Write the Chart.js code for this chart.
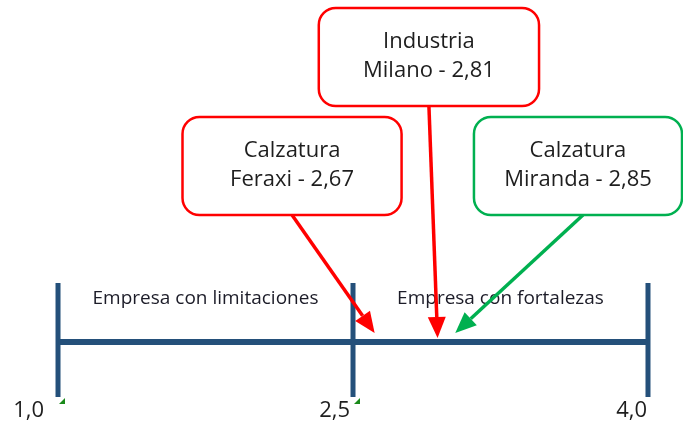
<!DOCTYPE html>
<html>
<head>
<meta charset="utf-8">
<script src="https://cdn.jsdelivr.net/npm/chart.js@4"></script>
<style>
  body { margin: 0; background: #fff; }
  #wrap { width: 683px; height: 425px; }
</style>
</head>
<body>
<div id="wrap"><canvas id="scaleChart" width="683" height="425"></canvas></div>
<script>
// scale 1,0 - 4,0 with the cut at 2,5
const axisTicks = [1.0, 2.5, 4.0];
const tickLabels = ['1,0', '2,5', '4,0'];
const zones = ['Empresa con limitaciones', 'Empresa con fortalezas'];

// companies
const sectors = ['Calzatura', 'Industria', 'Calzatura'];
const companyNames = ['Feraxi', 'Milano', 'Miranda'];
const scores = [2.67, 2.81, 2.85];
// where each arrow lands on the drawn scale (not to scale in the original)
const arrowTips = [2.61, 2.93, 3.02];
const boxColors = ['#ff0000', '#ff0000', '#00b050'];

const axisColor = '#24507a';
const FONT = '"Open Sans", sans-serif';

// box layout in axis units (x) and diagram levels (y)
const boxCenters = [2.19, 2.886, 3.644];
const boxLevels = [1.76, 2.85, 1.76];
const boxHalfW = [0.557, 0.56, 0.529];
const boxHalfH = 0.49;

function fmt(v) {
    return v.toFixed(2).replace('.', ',');
}

const datasets = [];
datasets.push({
    data: [{x: axisTicks[0], y: 0}, {x: axisTicks[axisTicks.length - 1], y: 0}],
    borderColor: axisColor, borderWidth: 6, showLine: true, pointRadius: 0
});
axisTicks.forEach(t => {
    datasets.push({
        data: [{x: t, y: 0.59}, {x: t, y: -0.55}],
        borderColor: axisColor, borderWidth: 5, showLine: true, pointRadius: 0
    });
});

const diagramPlugin = {
    id: 'diagram',
    afterDatasetsDraw(chart) {
        const ctx = chart.ctx;
        const xs = chart.scales.x, ys = chart.scales.y;
        ctx.save();

        // small green markers under the first two ticks
        ctx.fillStyle = '#1a8a1a';
        [axisTicks[0], axisTicks[1]].forEach(t => {
            const px = xs.getPixelForValue(t) + 1, py = ys.getPixelForValue(-0.55) + 1;
            ctx.beginPath();
            ctx.moveTo(px, py + 6);
            ctx.lineTo(px + 6, py);
            ctx.lineTo(px + 6, py + 6);
            ctx.closePath();
            ctx.fill();
        });

        // tick labels
        ctx.fillStyle = '#1e1e1e';
        ctx.font = '22px ' + FONT;
        ctx.textAlign = 'right';
        ctx.textBaseline = 'middle';
        axisTicks.forEach((t, i) => {
            const off = i === 0 ? 14 : (i === 1 ? 3 : 1);
            ctx.fillText(tickLabels[i], xs.getPixelForValue(t) - off, ys.getPixelForValue(-0.69));
        });

        // zone labels
        ctx.textAlign = 'center';
        ctx.font = '19px ' + FONT;
        ctx.fillStyle = '#1c1c28';
        ctx.fillText(zones[0], xs.getPixelForValue((axisTicks[0] + axisTicks[1]) / 2), ys.getPixelForValue(0.43));
        ctx.fillText(zones[1], xs.getPixelForValue((axisTicks[1] + axisTicks[2]) / 2), ys.getPixelForValue(0.43));

        // arrows
        scores.forEach((s, i) => {
            const x0 = xs.getPixelForValue(boxCenters[i]) + (i === 2 ? 5 : 0);
            const y0 = ys.getPixelForValue(boxLevels[i] - boxHalfH);
            const x1 = xs.getPixelForValue(arrowTips[i]);
            const y1 = ys.getPixelForValue(i === 1 ? 0.04 : 0.09);
            const ang = Math.atan2(y1 - y0, x1 - x0);
            const headL = 21, headW = 9;
            const bx = x1 - headL * Math.cos(ang), by = y1 - headL * Math.sin(ang);
            ctx.strokeStyle = boxColors[i];
            ctx.fillStyle = boxColors[i];
            ctx.lineWidth = 3.5;
            ctx.beginPath();
            ctx.moveTo(x0, y0);
            ctx.lineTo(bx, by);
            ctx.stroke();
            ctx.beginPath();
            ctx.moveTo(x1, y1);
            ctx.lineTo(bx + headW * Math.sin(ang), by - headW * Math.cos(ang));
            ctx.lineTo(bx - headW * Math.sin(ang), by + headW * Math.cos(ang));
            ctx.closePath();
            ctx.fill();
        });

        // boxes
        scores.forEach((s, i) => {
            const l = xs.getPixelForValue(boxCenters[i] - boxHalfW[i]);
            const r = xs.getPixelForValue(boxCenters[i] + boxHalfW[i]);
            const t = ys.getPixelForValue(boxLevels[i] + boxHalfH);
            const b = ys.getPixelForValue(boxLevels[i] - boxHalfH);
            ctx.beginPath();
            ctx.roundRect(l, t, r - l, b - t, 17);
            ctx.fillStyle = '#fff';
            ctx.fill();
            ctx.lineWidth = 2.5;
            ctx.strokeStyle = boxColors[i];
            ctx.stroke();

            const cx = (l + r) / 2, cy = (t + b) / 2;
            ctx.fillStyle = '#1e1e1e';
            ctx.font = '22px ' + FONT;
            ctx.textAlign = 'center';
            ctx.fillText(sectors[i], cx, cy - 15);
            ctx.fillText(companyNames[i] + ' - ' + fmt(s), cx, cy + 14);
        });

        ctx.restore();
    }
};

new Chart(document.getElementById('scaleChart'), {
    type: 'scatter',
    data: { datasets: datasets },
    options: {
        responsive: false,
        animation: false,
        layout: { padding: 0 },
        plugins: { legend: { display: false }, tooltip: { enabled: false } },
        scales: {
            x: { type: 'linear', min: 0.705, max: 4.178, display: false },
            y: { type: 'linear', min: -0.83, max: 3.42, display: false }
        }
    },
    plugins: [diagramPlugin]
});
</script>
</body>
</html>
